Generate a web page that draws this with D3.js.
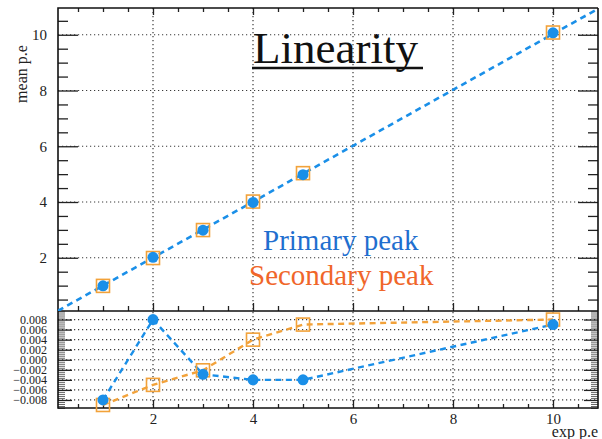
<!DOCTYPE html>
<html><head><meta charset="utf-8">
<script src="https://cdn.jsdelivr.net/npm/d3@7"></script>
<style>body{margin:0;background:#fff;}</style></head>
<body><svg id="c" width="602" height="439"></svg>
<script>
// ---- data ----
const expPE = [1, 2, 3, 4, 5, 10];
const primaryMean = [0.992, 2.016, 2.991, 3.984, 4.98, 10.07];
const secondaryMean = [0.991, 1.99, 2.994, 4.016, 5.035, 10.08];
const primaryRes = [-0.008, 0.008, -0.0029, -0.004, -0.004, 0.007];
const secondaryRes = [-0.009, -0.005, -0.0021, 0.004, 0.007, 0.008];
const fitParams = [1.003, -0.002]; // slope, intercept
const xMajor = [2, 4, 6, 8, 10];
const yMajor = [2, 4, 6, 8, 10];
const resMajor = [-0.008, -0.006, -0.004, -0.002, 0, 0.002, 0.004, 0.006, 0.008];
const xDomain = [0.1, 10.9];
const yDomain = [0.09, 10.96];
const resDomain = [-0.0096, 0.0097];

const FONT = '"Liberation Serif"';
const svg = d3.select('#c');
const X0 = 58, X1 = 598, T0 = 8, T1 = 311, B0 = 311, B1 = 408;
const x = d3.scaleLinear().domain(xDomain).range([X0, X1]);
const y = d3.scaleLinear().domain(yDomain).range([T1, T0]);
const yr = d3.scaleLinear().domain(resDomain).range([B1, B0]);

const blue = '#1a8fe8', orange = '#f2a23a';
const gridCol = '#3a3a3a';

function range(a, b, s) { const r = []; for (let v = a; v <= b + 1e-12; v += s) r.push(+v.toFixed(6)); return r; }
const xMinor = range(0.5, 10.5, 0.5).filter(v => !xMajor.includes(v));
const yMinor = range(0.5, 10.5, 0.5).filter(v => !yMajor.includes(v));
const resMinor = range(-0.0096, 0.0096, 0.0004).filter(v => !resMajor.some(m => Math.abs(m - v) < 1e-7));

// gridlines
const g = svg.append('g');
xMajor.forEach(v => {
  g.append('line').attr('x1', x(v)).attr('x2', x(v)).attr('y1', T0).attr('y2', B1)
    .attr('stroke', gridCol).attr('stroke-width', 1.2).attr('stroke-dasharray', '1.2,2.8');
});
yMajor.forEach(v => {
  g.append('line').attr('x1', X0).attr('x2', X1).attr('y1', y(v)).attr('y2', y(v))
    .attr('stroke', gridCol).attr('stroke-width', 1.2).attr('stroke-dasharray', '1.2,2.8');
});
resMajor.forEach(v => {
  g.append('line').attr('x1', X0).attr('x2', X1).attr('y1', yr(v)).attr('y2', yr(v))
    .attr('stroke', gridCol).attr('stroke-width', 1.2).attr('stroke-dasharray', '1.2,2.8');
});

// axes helper
function styleAxis(sel, w) {
  sel.select('.domain').remove();
  sel.selectAll('line').attr('stroke', '#222').attr('stroke-width', w || 1.3);
  sel.selectAll('text').style('font-family', FONT).attr('fill', '#222');
}
// top pad y axes
svg.append('g').attr('transform', `translate(${X0},0)`)
  .call(d3.axisLeft(y).tickValues(yMajor).tickSize(-20).tickPadding(11).tickFormat(d3.format('d')))
  .call(styleAxis).selectAll('text').style('font-size', '15px');
svg.append('g').attr('transform', `translate(${X0},0)`)
  .call(d3.axisLeft(y).tickValues(yMinor).tickSize(-10).tickFormat(''))
  .call(styleAxis);
svg.append('g').attr('transform', `translate(${X1},0)`)
  .call(d3.axisRight(y).tickValues(yMajor).tickSize(-20).tickFormat(''))
  .call(styleAxis);
svg.append('g').attr('transform', `translate(${X1},0)`)
  .call(d3.axisRight(y).tickValues(yMinor).tickSize(-10).tickFormat(''))
  .call(styleAxis);
// top pad x axes
svg.append('g').attr('transform', `translate(0,${T0})`)
  .call(d3.axisTop(x).tickValues(xMajor).tickSize(-7).tickFormat('')).call(styleAxis);
svg.append('g').attr('transform', `translate(0,${T0})`)
  .call(d3.axisTop(x).tickValues(xMinor).tickSize(-4).tickFormat('')).call(styleAxis);
svg.append('g').attr('transform', `translate(0,${T1})`)
  .call(d3.axisBottom(x).tickValues(xMajor).tickSize(-8).tickFormat('')).call(styleAxis);
svg.append('g').attr('transform', `translate(0,${T1})`)
  .call(d3.axisBottom(x).tickValues(xMinor).tickSize(-5).tickFormat('')).call(styleAxis);

// bottom pad y axes
svg.append('g').attr('transform', `translate(${X0},0)`)
  .call(d3.axisLeft(yr).tickValues(resMajor).tickSize(-14).tickPadding(11).tickFormat(d3.format('.3f')))
  .call(styleAxis).selectAll('text').style('font-size', '12px').attr('dy', '0.32em');
svg.append('g').attr('transform', `translate(${X0},0)`)
  .call(d3.axisLeft(yr).tickValues(resMinor).tickSize(-7).tickFormat(''))
  .call(styleAxis, 0.7);
svg.append('g').attr('transform', `translate(${X1},0)`)
  .call(d3.axisRight(yr).tickValues(resMajor).tickSize(-14).tickFormat(''))
  .call(styleAxis);
svg.append('g').attr('transform', `translate(${X1},0)`)
  .call(d3.axisRight(yr).tickValues(resMinor).tickSize(-7).tickFormat(''))
  .call(styleAxis, 0.7);
// bottom pad x axis
svg.append('g').attr('transform', `translate(0,${B1})`)
  .call(d3.axisBottom(x).tickValues(xMajor).tickSize(-8).tickPadding(5).tickFormat(d3.format('d')))
  .call(styleAxis).selectAll('text').style('font-size', '15px');
svg.append('g').attr('transform', `translate(0,${B1})`)
  .call(d3.axisBottom(x).tickValues(xMinor).tickSize(-4).tickFormat(''))
  .call(styleAxis);

// frame
svg.append('path')
  .attr('d', `M${X1},${T0}H${X0}V${B1}H${X1}V${T0}M${X0},${T1}H${X1}`)
  .attr('fill', 'none').attr('stroke', '#111').attr('stroke-width', 1.6);

// clip top pad
svg.append('clipPath').attr('id', 'clipTop').append('rect')
  .attr('x', X0).attr('y', T0).attr('width', X1 - X0).attr('height', T1 - T0);

// fit line
const fitX = xDomain;
svg.append('line').attr('clip-path', 'url(#clipTop)')
  .attr('x1', x(fitX[0])).attr('y1', y(fitParams[0] * fitX[0] + fitParams[1]))
  .attr('x2', x(fitX[1])).attr('y2', y(fitParams[0] * fitX[1] + fitParams[1]))
  .attr('stroke', blue).attr('stroke-width', 2.6).attr('stroke-dasharray', '6,4.5');

// top markers
const topPts = svg.append('g');
expPE.forEach((e, i) => {
  topPts.append('rect').attr('x', x(e) - 6.5).attr('y', y(secondaryMean[i]) - 6.5)
    .attr('width', 13).attr('height', 13).attr('fill', 'none').attr('stroke', orange).attr('stroke-width', 1.6);
});
expPE.forEach((e, i) => {
  topPts.append('circle').attr('cx', x(e)).attr('cy', y(primaryMean[i])).attr('r', 5.5).attr('fill', blue);
});

// residual lines
const lineR = (arr) => d3.line().x((d, i) => x(expPE[i])).y(d => yr(d))(arr);
svg.append('path').attr('d', lineR(secondaryRes)).attr('fill', 'none')
  .attr('stroke', orange).attr('stroke-width', 2.4).attr('stroke-dasharray', '6,4.5');
svg.append('path').attr('d', lineR(primaryRes)).attr('fill', 'none')
  .attr('stroke', blue).attr('stroke-width', 2.4).attr('stroke-dasharray', '6,4.5');
expPE.forEach((e, i) => {
  svg.append('rect').attr('x', x(e) - 6.5).attr('y', yr(secondaryRes[i]) - 6.5)
    .attr('width', 13).attr('height', 13).attr('fill', 'none').attr('stroke', orange).attr('stroke-width', 1.6);
});
expPE.forEach((e, i) => {
  svg.append('circle').attr('cx', x(e)).attr('cy', yr(primaryRes[i])).attr('r', 5.5).attr('fill', blue);
});

// titles
svg.append('text').attr('x', 253).attr('y', 63).style('font-size', '45px').attr('fill', '#111').style('font-family', FONT)
  .text('Linearity');
svg.append('line').attr('x1', 252).attr('x2', 423).attr('y1', 68).attr('y2', 68)
  .attr('stroke', '#111').attr('stroke-width', 2.6);
svg.append('text').attr('x', 263).attr('y', 250).style('font-size', '29px').attr('fill', '#1f6fcf').style('font-family', FONT)
  .text('Primary peak');
svg.append('text').attr('x', 249).attr('y', 285).style('font-size', '29px').attr('fill', '#f0662a').style('font-family', FONT)
  .text('Secondary peak');

// axis titles
svg.append('text').attr('transform', 'translate(27,74) rotate(-90)').attr('text-anchor', 'middle').style('font-family', FONT)
  .style('font-size', '16px').attr('fill', '#222').text('mean p.e');
svg.append('text').attr('x', 598).attr('y', 437).attr('text-anchor', 'end').style('font-family', FONT)
  .style('font-size', '16px').attr('fill', '#222').text('exp p.e');
</script></body></html>
